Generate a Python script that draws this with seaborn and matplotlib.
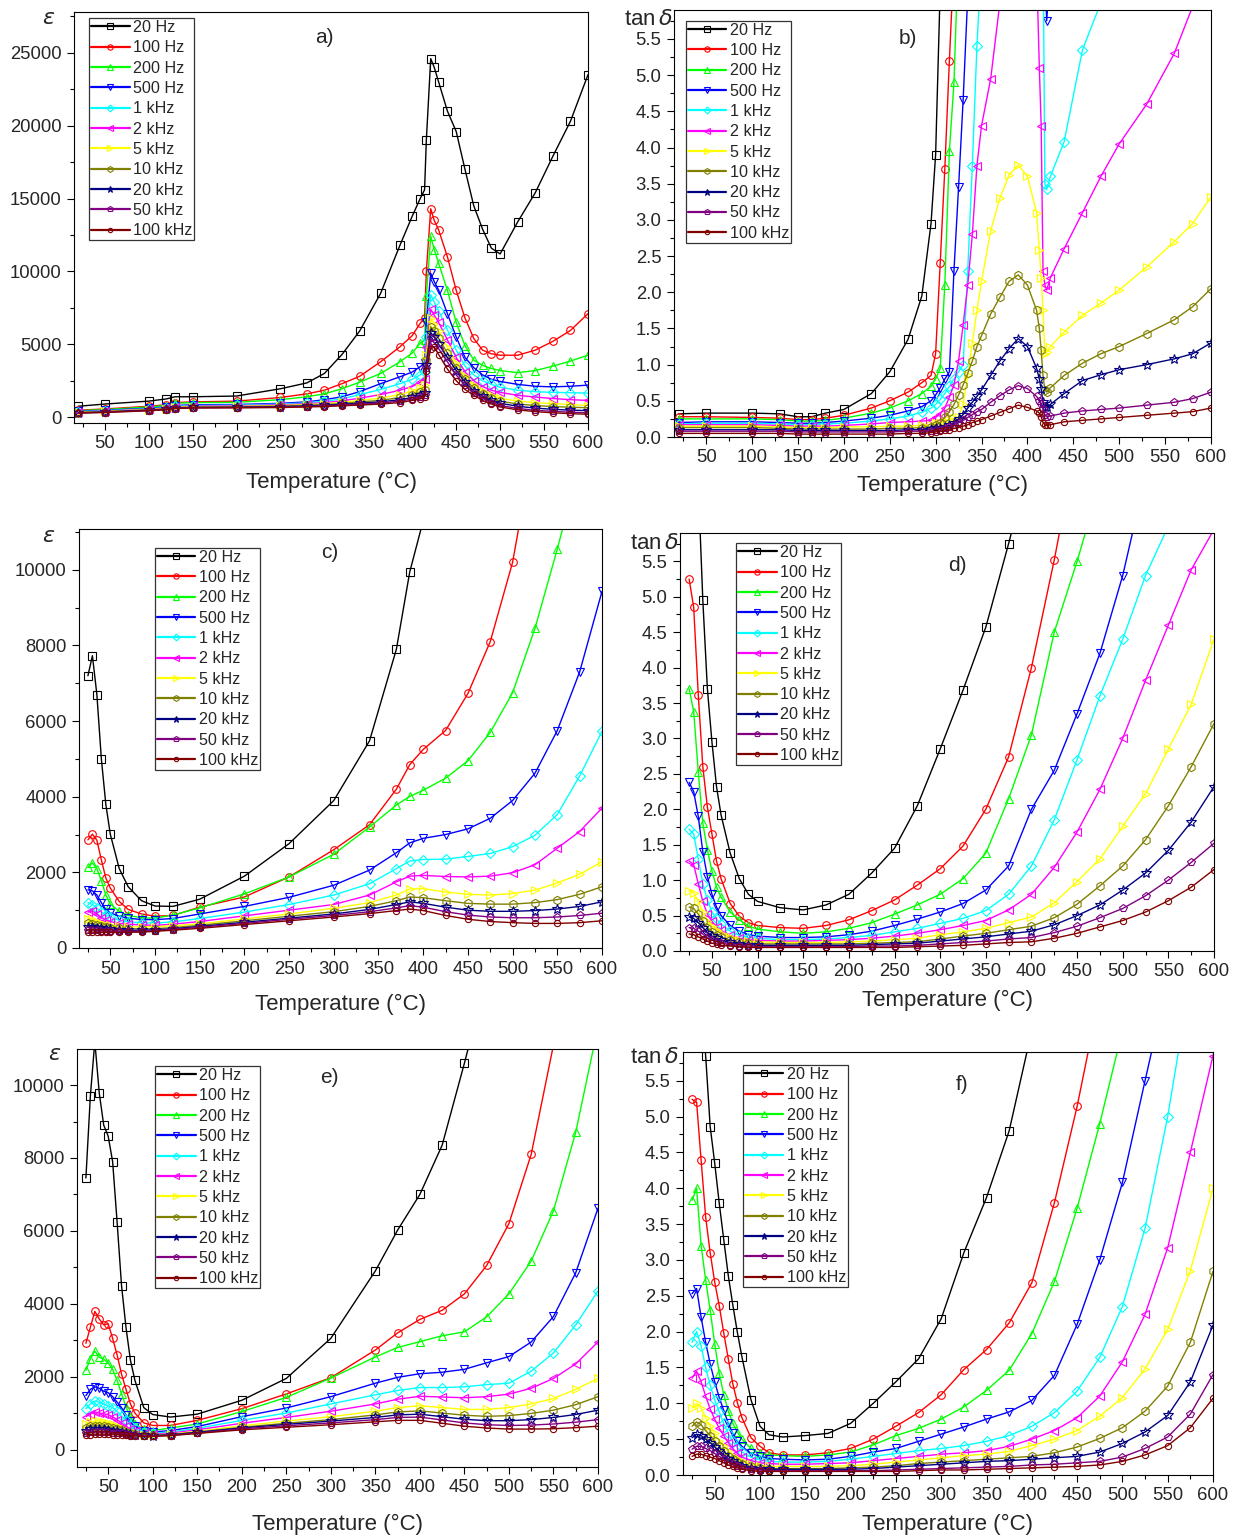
import numpy as np
import pandas as pd
import matplotlib
matplotlib.use("Agg")
import matplotlib.pyplot as plt
from matplotlib.colors import to_hex
from matplotlib.lines import Line2D
from matplotlib.ticker import MultipleLocator, FormatStrFormatter
import seaborn as sns

N = np.nan  # point above the frame / not recorded

# ── Series definitions ───────────────────────────────────────────────────────
FREQS = ["20 Hz", "100 Hz", "200 Hz", "500 Hz", "1 kHz", "2 kHz",
         "5 kHz", "10 kHz", "20 kHz", "50 kHz", "100 kHz"]
COLORS = ["#000000", "#FF0000", "#00FF00", "#0000FF", "#00FFFF", "#FF00FF",
          "#FFFF00", "#808000", "#000080", "#800080", "#800000"]
MARKERS = ["s", "o", "^", "v", "D", "<", ">", "h", "*", "p", "o"]
MSIZE = [6, 5.5, 6, 6, 5, 6, 6, 6, 7, 6, 4.5]

# ── a) permittivity, sample 1 ────────────────────────────────────────────────
T_A = [20, 50, 100, 120, 130, 150, 200, 250, 280, 300, 320, 340, 364, 386, 400, 409,
       414, 416, 421, 425, 430, 440, 450, 460, 470, 480, 490, 500, 520, 540, 560, 580, 600]
EPS_A = [
    [750, 900, 1100, 1250, 1400, 1400, 1450, 1950, 2350, 3000, 4300, 5900, 8500, 11800, 13800, 15000,
     15600, 19000, 24600, 24000, 23000, 21000, 19600, 17000, 14500, 12900, 11600, 11200, 13400, 15400, 17900, 20300, 23500],
    [480, 560, 750, 850, 1000, 1050, 1100, 1350, 1600, 1850, 2300, 2800, 3800, 4830, 5600, 6440,
     6800, 10000, 14300, 13500, 12850, 11000, 8700, 6800, 5400, 4600, 4350, 4250, 4250, 4600, 5200, 5950, 7100],
    [450, 520, 700, 800, 950, 1000, 1020, 1200, 1400, 1600, 1950, 2400, 3000, 3800, 4400, 5080,
     5290, 8300, 12400, 11500, 10560, 8700, 6500, 4900, 3920, 3550, 3340, 3200, 3050, 3200, 3500, 3850, 4250],
    [400, 470, 620, 700, 800, 850, 870, 950, 1050, 1200, 1400, 1750, 2300, 2770, 3100, 3460,
     3700, 6500, 9870, 9300, 8720, 7100, 5500, 4100, 3400, 2900, 2600, 2450, 2250, 2120, 2080, 2120, 2200],
    [380, 440, 580, 650, 750, 800, 820, 900, 980, 1100, 1250, 1550, 1900, 2300, 2600, 2900,
     3100, 5500, 8400, 7900, 7300, 6000, 4600, 3500, 2900, 2500, 2250, 2050, 1850, 1750, 1700, 1680, 1650],
    [360, 420, 550, 620, 710, 760, 780, 850, 920, 1000, 1120, 1300, 1550, 1850, 2100, 2400,
     2600, 4800, 7400, 7000, 6500, 5300, 4100, 3100, 2500, 2100, 1850, 1700, 1500, 1380, 1280, 1200, 1150],
    [340, 400, 520, 590, 680, 720, 740, 800, 860, 920, 1020, 1150, 1300, 1550, 1800, 2000,
     2200, 4300, 6800, 6400, 5900, 4800, 3700, 2800, 2200, 1800, 1500, 1300, 1100, 1000, 930, 860, 800],
    [320, 380, 500, 570, 650, 690, 710, 760, 810, 860, 940, 1050, 1150, 1350, 1550, 1700,
     1850, 3900, 6200, 5900, 5400, 4400, 3400, 2600, 2000, 1600, 1300, 1100, 900, 800, 730, 680, 650],
    [300, 360, 480, 550, 630, 670, 680, 720, 770, 820, 880, 960, 1050, 1200, 1350, 1500,
     1650, 3600, 5800, 5500, 5000, 4100, 3200, 2400, 1800, 1450, 1150, 950, 750, 620, 540, 480, 450],
    [290, 340, 460, 530, 610, 650, 660, 690, 730, 780, 830, 900, 970, 1100, 1250, 1350,
     1500, 3400, 5400, 5100, 4700, 3800, 2900, 2200, 1650, 1300, 1000, 800, 600, 470, 400, 340, 300],
    [280, 320, 440, 510, 590, 630, 640, 660, 700, 730, 780, 830, 900, 1000, 1150, 1250,
     1400, 3200, 4700, 4800, 4300, 3300, 2500, 1900, 1500, 1150, 900, 700, 500, 380, 300, 240, 200],
]

# ── b) loss tangent, sample 1 ────────────────────────────────────────────────
T_B = [20, 50, 100, 130, 150, 165, 180, 200, 230, 250, 270, 285, 295, 300, 305, 310, 315, 320,
       325, 330, 335, 340, 345, 350, 360, 370, 380, 390, 400, 410, 413, 415, 417, 419, 421, 425,
       440, 460, 480, 500, 530, 560, 580, 600]
TAN_B = [
    [0.32, 0.33, 0.33, 0.32, 0.28, 0.28, 0.33, 0.38, 0.60, 0.90, 1.35, 1.95, 2.95, 3.90, 6.20],
    [0.28, 0.28, 0.27, 0.26, 0.24, 0.24, 0.26, 0.30, 0.40, 0.50, 0.62, 0.75, 0.85, 1.15, 2.40, 3.70, 5.20, 6.60],
    [0.25, 0.25, 0.25, 0.24, 0.22, 0.22, 0.23, 0.26, 0.33, 0.40, 0.50, 0.60, 0.70, 0.80, 0.95, 2.10, 3.95, 4.90, 6.80],
    [0.20, 0.21, 0.21, 0.20, 0.19, 0.19, 0.20, 0.22, 0.26, 0.30, 0.36, 0.42, 0.50, 0.58, 0.68, 0.80, 0.90, 2.30,
     3.45, 4.66, 6.10, N, N, N, N, N, N, N, N, N, N, N, N, 6.50, 5.75, 6.50],
    [0.18, 0.19, 0.19, 0.18, 0.17, 0.17, 0.18, 0.19, 0.22, 0.25, 0.29, 0.34, 0.40, 0.45, 0.52, 0.60, 0.70, 0.80,
     0.90, 1.00, 2.30, 3.75, 5.40, 6.60, N, N, N, N, N, N, N, N, 7.00, 3.50, 3.42, 3.60, 4.08, 5.35, 6.00],
    [0.17, 0.17, 0.17, 0.16, 0.15, 0.15, 0.15, 0.16, 0.18, 0.20, 0.21, 0.22, 0.23, 0.27, 0.32, 0.40, 0.55, 0.72,
     1.05, 1.55, 2.10, 2.80, 3.75, 4.30, 4.95, 6.00, N, N, N, 6.50, 5.10, 4.30, 2.30, 2.10, 2.03, 2.20,
     2.60, 3.10, 3.60, 4.05, 4.60, 5.30, 5.95],
    [0.15, 0.15, 0.15, 0.14, 0.13, 0.13, 0.13, 0.14, 0.14, 0.15, 0.15, 0.16, 0.17, 0.19, 0.20, 0.22, 0.24, 0.26,
     0.28, 0.45, 0.85, 1.30, 1.75, 2.15, 2.85, 3.30, 3.62, 3.76, 3.60, 3.10, 2.58, 2.20, 1.75, 1.15, 1.18, 1.25,
     1.45, 1.68, 1.85, 2.03, 2.35, 2.70, 2.95, 3.32],
    [0.13, 0.13, 0.13, 0.12, 0.11, 0.11, 0.11, 0.11, 0.11, 0.12, 0.12, 0.13, 0.14, 0.16, 0.20, 0.27, 0.35, 0.45,
     0.58, 0.72, 0.88, 1.05, 1.25, 1.40, 1.70, 1.93, 2.15, 2.24, 2.10, 1.75, 1.50, 1.20, 0.85, 0.65, 0.62, 0.68,
     0.85, 1.02, 1.15, 1.25, 1.43, 1.62, 1.80, 2.05],
    [0.10, 0.10, 0.10, 0.10, 0.09, 0.09, 0.09, 0.09, 0.09, 0.09, 0.10, 0.10, 0.11, 0.12, 0.13, 0.14, 0.16, 0.20,
     0.25, 0.31, 0.40, 0.48, 0.56, 0.65, 0.85, 1.05, 1.22, 1.36, 1.25, 0.95, 0.80, 0.66, 0.48, 0.42, 0.41, 0.45,
     0.60, 0.78, 0.86, 0.93, 1.00, 1.08, 1.15, 1.30],
    [0.08, 0.08, 0.08, 0.08, 0.07, 0.07, 0.07, 0.07, 0.07, 0.07, 0.08, 0.08, 0.08, 0.09, 0.10, 0.12, 0.14, 0.17,
     0.20, 0.23, 0.27, 0.31, 0.35, 0.38, 0.48, 0.57, 0.65, 0.71, 0.67, 0.56, 0.50, 0.45, 0.39, 0.30, 0.28, 0.29,
     0.33, 0.36, 0.38, 0.40, 0.44, 0.48, 0.53, 0.62],
    [0.05, 0.05, 0.05, 0.05, 0.04, 0.04, 0.04, 0.04, 0.04, 0.04, 0.05, 0.05, 0.06, 0.07, 0.08, 0.09, 0.10, 0.12,
     0.13, 0.15, 0.17, 0.20, 0.22, 0.24, 0.29, 0.34, 0.39, 0.44, 0.41, 0.36, 0.33, 0.28, 0.20, 0.17, 0.16, 0.17,
     0.21, 0.23, 0.25, 0.27, 0.30, 0.33, 0.35, 0.40],
]

# ── c) permittivity, sample 2 ────────────────────────────────────────────────
T_C = [25, 30, 35, 40, 45, 50, 60, 70, 85, 100, 120, 150, 200, 250, 300, 340, 370, 385,
       400, 425, 450, 475, 500, 525, 550, 575, 600]
EPS_C = [
    [7200, 7730, 6700, 5000, 3800, 3010, 2100, 1620, 1250, 1110, 1100, 1290, 1900, 2760, 3900, 5480, 7900, 9950, 11300],
    [2860, 3010, 2850, 2330, 1850, 1585, 1230, 1020, 900, 840, 860, 1080, 1350, 1880, 2600, 3260, 4200, 4850,
     5250, 5750, 6730, 8100, 10200, 13500],
    [2130, 2250, 2100, 1780, 1400, 1160, 970, 860, 800, 790, 870, 1060, 1430, 1880, 2480, 3200, 3780, 4010,
     4170, 4490, 4950, 5700, 6750, 8450, 10550, 12800],
    [1540, 1510, 1400, 1200, 1020, 930, 840, 790, 750, 750, 780, 900, 1100, 1340, 1660, 2060, 2520, 2780,
     2900, 3000, 3150, 3430, 3900, 4620, 5750, 7300, 9430],
    [1200, 1150, 1050, 950, 880, 820, 730, 690, 670, 660, 690, 780, 950, 1150, 1400, 1700, 2100, 2300,
     2340, 2350, 2420, 2500, 2680, 2980, 3530, 4550, 5730],
    [950, 980, 900, 800, 740, 700, 650, 630, 610, 600, 630, 700, 850, 1000, 1150, 1400, 1750, 1900,
     1920, 1890, 1880, 1900, 1990, 2200, 2640, 3080, 3700],
    [780, 760, 700, 650, 620, 600, 570, 560, 560, 560, 590, 640, 770, 900, 1050, 1200, 1400, 1560,
     1570, 1480, 1420, 1400, 1440, 1530, 1720, 1950, 2280],
    [650, 640, 610, 580, 560, 540, 520, 510, 510, 510, 540, 600, 720, 840, 960, 1100, 1250, 1350,
     1330, 1250, 1180, 1160, 1160, 1200, 1280, 1420, 1620],
    [560, 560, 540, 520, 500, 490, 480, 470, 470, 480, 510, 570, 680, 790, 900, 1020, 1150, 1220,
     1180, 1080, 1000, 970, 970, 990, 1030, 1100, 1220],
    [480, 480, 470, 460, 455, 450, 440, 440, 440, 460, 490, 550, 650, 760, 860, 960, 1060, 1120,
     1080, 960, 870, 820, 800, 800, 820, 860, 920],
    [420, 420, 415, 410, 410, 410, 410, 415, 420, 440, 470, 520, 620, 720, 820, 910, 990, 1030,
     990, 860, 760, 700, 670, 650, 650, 670, 720],
]

# ── d) loss tangent, sample 2 ────────────────────────────────────────────────
T_D = [25, 30, 35, 40, 45, 50, 55, 60, 70, 80, 90, 100, 125, 150, 175, 200, 225, 250, 275, 300,
       325, 350, 375, 400, 425, 450, 475, 500, 525, 550, 575, 600]
TAN_D = [
    [N, N, 6.60, 4.95, 3.70, 2.95, 2.32, 1.92, 1.38, 1.02, 0.80, 0.70, 0.61, 0.58, 0.65, 0.80, 1.10, 1.45,
     2.05, 2.85, 3.68, 4.57, 5.75, 7.00],
    [5.25, 4.85, 3.62, 2.60, 2.03, 1.65, 1.27, 1.02, 0.67, 0.49, 0.40, 0.36, 0.33, 0.32, 0.36, 0.44, 0.57, 0.72,
     0.93, 1.16, 1.48, 2.00, 2.74, 4.00, 5.52, 7.20],
    [3.70, 3.38, 2.53, 1.80, 1.43, 1.13, 0.90, 0.76, 0.55, 0.44, 0.35, 0.31, 0.27, 0.25, 0.27, 0.32, 0.40, 0.52,
     0.65, 0.80, 1.02, 1.38, 2.15, 3.05, 4.50, 5.50, 6.60],
    [2.38, 2.25, 1.90, 1.40, 1.05, 0.80, 0.62, 0.50, 0.36, 0.28, 0.23, 0.21, 0.19, 0.19, 0.20, 0.23, 0.28, 0.36,
     0.45, 0.55, 0.67, 0.86, 1.20, 2.00, 2.55, 3.35, 4.20, 5.30, 6.70],
    [1.72, 1.65, 1.30, 0.95, 0.72, 0.55, 0.45, 0.38, 0.28, 0.22, 0.19, 0.18, 0.16, 0.16, 0.17, 0.19, 0.22, 0.27,
     0.32, 0.39, 0.46, 0.57, 0.80, 1.20, 1.85, 2.70, 3.60, 4.40, 5.30, 6.00],
    [1.27, 1.22, 0.95, 0.70, 0.52, 0.42, 0.34, 0.29, 0.22, 0.18, 0.16, 0.15, 0.14, 0.14, 0.15, 0.16, 0.18, 0.21,
     0.25, 0.30, 0.36, 0.43, 0.58, 0.80, 1.18, 1.68, 2.28, 3.00, 3.82, 4.60, 5.38, 5.95],
    [0.85, 0.82, 0.70, 0.55, 0.42, 0.35, 0.30, 0.25, 0.20, 0.16, 0.14, 0.13, 0.12, 0.12, 0.12, 0.13, 0.14, 0.16,
     0.18, 0.23, 0.27, 0.32, 0.40, 0.48, 0.68, 0.98, 1.30, 1.76, 2.22, 2.85, 3.48, 4.40],
    [0.62, 0.60, 0.52, 0.42, 0.33, 0.27, 0.23, 0.20, 0.15, 0.12, 0.11, 0.10, 0.10, 0.10, 0.10, 0.10, 0.11, 0.12,
     0.13, 0.17, 0.21, 0.25, 0.30, 0.35, 0.47, 0.66, 0.92, 1.20, 1.57, 2.05, 2.60, 3.21],
    [0.48, 0.46, 0.40, 0.33, 0.26, 0.21, 0.18, 0.15, 0.12, 0.10, 0.09, 0.08, 0.08, 0.08, 0.08, 0.08, 0.09, 0.10,
     0.11, 0.14, 0.17, 0.20, 0.24, 0.28, 0.37, 0.50, 0.65, 0.86, 1.10, 1.42, 1.82, 2.32],
    [0.33, 0.32, 0.28, 0.24, 0.19, 0.16, 0.13, 0.11, 0.09, 0.07, 0.07, 0.06, 0.06, 0.06, 0.06, 0.06, 0.07, 0.07,
     0.08, 0.10, 0.12, 0.14, 0.17, 0.19, 0.26, 0.35, 0.47, 0.60, 0.78, 1.00, 1.25, 1.52],
    [0.24, 0.23, 0.20, 0.17, 0.14, 0.11, 0.10, 0.08, 0.07, 0.06, 0.05, 0.05, 0.05, 0.05, 0.05, 0.05, 0.05, 0.05,
     0.06, 0.07, 0.08, 0.10, 0.12, 0.13, 0.18, 0.25, 0.34, 0.43, 0.55, 0.71, 0.90, 1.15],
]

# ── e) permittivity, sample 3 ────────────────────────────────────────────────
T_E = [25, 30, 35, 40, 45, 50, 55, 60, 65, 70, 75, 80, 90, 100, 120, 150, 200, 250, 300, 350,
       375, 400, 425, 450, 475, 500, 525, 550, 575, 600]
EPS_E = [
    [7450, 9700, 11200, 9780, 8900, 8600, 7900, 6250, 4500, 3350, 2450, 1900, 1150, 960, 890, 970, 1350,
     1950, 3050, 4900, 6020, 7000, 8350, 10600, 13000],
    [2915, 3355, 3790, 3580, 3420, 3450, 3050, 2600, 2070, 1650, 1250, 1000, 730, 660, 660, 800, 1120,
     1525, 1970, 2730, 3200, 3570, 3820, 4270, 5050, 6200, 8100, 11100],
    [2170, 2490, 2700, 2530, 2480, 2380, 2200, 1900, 1530, 1170, 880, 700, 560, 520, 590, 700, 1040,
     1430, 1960, 2540, 2800, 2960, 3120, 3230, 3640, 4270, 5170, 6550, 8710, 11600],
    [1480, 1650, 1720, 1680, 1600, 1560, 1450, 1300, 1150, 950, 780, 640, 520, 480, 520, 630, 900,
     1140, 1450, 1820, 1980, 2080, 2120, 2200, 2380, 2550, 2950, 3650, 4850, 6620],
    [1120, 1250, 1330, 1300, 1250, 1200, 1150, 1050, 920, 800, 680, 580, 480, 450, 480, 580, 800,
     1000, 1250, 1500, 1620, 1700, 1700, 1720, 1780, 1820, 2150, 2650, 3420, 4350],
    [900, 980, 1030, 1000, 980, 950, 900, 820, 730, 640, 560, 500, 440, 420, 450, 540, 720,
     880, 1050, 1250, 1380, 1460, 1440, 1420, 1450, 1520, 1680, 1950, 2350, 2950],
    [700, 760, 780, 780, 760, 740, 700, 650, 590, 530, 480, 440, 410, 400, 420, 500, 650,
     780, 900, 1050, 1150, 1200, 1150, 1100, 1100, 1150, 1250, 1400, 1650, 1950],
    [600, 640, 650, 650, 640, 620, 600, 570, 530, 490, 450, 420, 400, 390, 410, 480, 610,
     720, 820, 950, 1030, 1060, 1000, 940, 910, 930, 990, 1080, 1230, 1450],
    [520, 550, 560, 560, 550, 540, 520, 500, 480, 450, 420, 400, 390, 380, 400, 470, 590,
     690, 780, 880, 950, 970, 900, 830, 790, 790, 820, 880, 960, 1080],
    [460, 480, 490, 490, 480, 475, 465, 455, 440, 420, 400, 390, 380, 370, 390, 450, 570,
     650, 730, 820, 880, 890, 810, 730, 680, 660, 670, 700, 750, 820],
    [400, 410, 420, 420, 420, 415, 410, 405, 400, 390, 380, 370, 360, 360, 380, 440, 540,
     610, 680, 760, 800, 800, 720, 640, 590, 560, 560, 570, 600, 640],
]

# ── f) loss tangent, sample 3 ────────────────────────────────────────────────
T_F = [25, 30, 35, 40, 45, 50, 55, 60, 65, 70, 75, 80, 90, 100, 110, 125, 150, 175, 200, 225,
       250, 275, 300, 325, 350, 375, 400, 425, 450, 475, 500, 525, 550, 575, 600]
TAN_F = [
    [N, N, 6.50, 5.85, 4.86, 4.35, 3.79, 3.28, 2.78, 2.37, 1.99, 1.65, 1.05, 0.68, 0.56, 0.53, 0.55, 0.58,
     0.72, 1.00, 1.30, 1.62, 2.18, 3.10, 3.87, 4.80, 6.20],
    [5.24, 5.20, 4.39, 3.60, 3.10, 2.69, 2.36, 1.98, 1.62, 1.27, 1.01, 0.80, 0.52, 0.40, 0.31, 0.28, 0.28, 0.31,
     0.37, 0.50, 0.68, 0.87, 1.12, 1.47, 1.75, 2.12, 2.68, 3.80, 5.14, 6.70],
    [3.83, 4.00, 3.20, 2.72, 2.30, 1.83, 1.42, 1.12, 0.89, 0.72, 0.60, 0.50, 0.37, 0.30, 0.28, 0.27, 0.26, 0.28,
     0.32, 0.42, 0.55, 0.65, 0.78, 0.95, 1.18, 1.46, 1.97, 2.70, 3.72, 4.90, 6.20],
    [2.53, 2.60, 2.20, 1.85, 1.55, 1.30, 1.08, 0.90, 0.72, 0.58, 0.47, 0.40, 0.30, 0.26, 0.23, 0.22, 0.21, 0.22,
     0.26, 0.32, 0.37, 0.47, 0.57, 0.67, 0.78, 0.88, 1.04, 1.39, 2.10, 3.00, 4.08, 5.50, 6.90],
    [1.85, 2.00, 1.80, 1.50, 1.25, 1.05, 0.88, 0.72, 0.58, 0.47, 0.38, 0.32, 0.25, 0.21, 0.19, 0.18, 0.18, 0.19,
     0.22, 0.26, 0.30, 0.34, 0.37, 0.41, 0.47, 0.55, 0.68, 0.87, 1.17, 1.64, 2.35, 3.44, 5.00, 6.90],
    [1.35, 1.45, 1.30, 1.10, 0.92, 0.78, 0.65, 0.55, 0.45, 0.37, 0.30, 0.25, 0.20, 0.17, 0.16, 0.15, 0.15, 0.16,
     0.17, 0.20, 0.23, 0.26, 0.29, 0.31, 0.34, 0.40, 0.50, 0.62, 0.80, 1.10, 1.58, 2.24, 3.17, 4.50, 5.85],
    [0.93, 1.00, 0.93, 0.80, 0.68, 0.58, 0.48, 0.40, 0.33, 0.27, 0.22, 0.19, 0.15, 0.13, 0.12, 0.12, 0.12, 0.12,
     0.13, 0.15, 0.18, 0.21, 0.24, 0.27, 0.29, 0.33, 0.41, 0.50, 0.62, 0.82, 1.08, 1.48, 2.03, 2.85, 4.00],
    [0.68, 0.74, 0.70, 0.62, 0.55, 0.47, 0.40, 0.33, 0.27, 0.22, 0.18, 0.15, 0.12, 0.10, 0.09, 0.09, 0.09, 0.09,
     0.10, 0.11, 0.13, 0.16, 0.18, 0.20, 0.22, 0.24, 0.26, 0.31, 0.39, 0.51, 0.66, 0.89, 1.24, 1.85, 2.84],
    [0.52, 0.57, 0.55, 0.50, 0.45, 0.39, 0.33, 0.28, 0.23, 0.19, 0.15, 0.13, 0.10, 0.08, 0.08, 0.08, 0.08, 0.08,
     0.08, 0.09, 0.11, 0.13, 0.15, 0.17, 0.19, 0.20, 0.22, 0.24, 0.26, 0.32, 0.44, 0.60, 0.83, 1.30, 2.09],
    [0.36, 0.40, 0.40, 0.37, 0.34, 0.30, 0.26, 0.22, 0.18, 0.15, 0.12, 0.10, 0.08, 0.07, 0.06, 0.06, 0.06, 0.06,
     0.06, 0.06, 0.07, 0.08, 0.09, 0.10, 0.11, 0.12, 0.14, 0.15, 0.17, 0.19, 0.25, 0.37, 0.53, 0.85, 1.40],
    [0.26, 0.29, 0.29, 0.27, 0.25, 0.23, 0.20, 0.17, 0.14, 0.12, 0.10, 0.08, 0.06, 0.05, 0.05, 0.05, 0.05, 0.05,
     0.05, 0.05, 0.05, 0.06, 0.07, 0.07, 0.08, 0.09, 0.10, 0.11, 0.12, 0.14, 0.19, 0.28, 0.41, 0.66, 1.07],
]

# ── Layout (pixel boxes in a 1234x1537 canvas) ───────────────────────────────
W, H = 1234, 1537
EPS_LBL = r"$\varepsilon$"
TAN_LBL = r"tan$\,\delta$"
PANELS = [
    dict(tag="a)", T=T_A, rows=EPS_A, box=(74, 12, 588, 423), ylim=(-400, 27800), ystep=(5000, 2500),
         fmt=None, ylab=EPS_LBL, ylab_xy=(-0.05, 0.985), leg=(0.029, 0.985), tag_xy=(0.488, 0.937), xl=59),
    dict(tag="b)", T=T_B, rows=TAN_B, box=(674, 10, 1211, 437), ylim=(0, 5.9), ystep=(0.5, 0.25),
         fmt="%.1f", ylab=TAN_LBL, ylab_xy=(-0.048, 0.977), leg=(0.022, 0.975), tag_xy=(0.436, 0.934), xl=48),
    dict(tag="c)", T=T_C, rows=EPS_C, box=(79, 529, 602, 948), ylim=(0, 11080), ystep=(2000, 1000),
         fmt=None, ylab=EPS_LBL, ylab_xy=(-0.059, 0.981), leg=(0.145, 0.955), tag_xy=(0.48, 0.945), xl=56),
    dict(tag="d)", T=T_D, rows=TAN_D, box=(680, 533, 1214, 951), ylim=(0, 5.9), ystep=(0.5, 0.25),
         fmt="%.1f", ylab=TAN_LBL, ylab_xy=(-0.047, 0.974), leg=(0.105, 0.976), tag_xy=(0.52, 0.923), xl=49),
    dict(tag="e)", T=T_E, rows=EPS_E, box=(77, 1049, 598, 1467), ylim=(-480, 10990), ystep=(2000, 1000),
         fmt=None, ylab=EPS_LBL, ylab_xy=(-0.043, 0.986), leg=(0.150, 0.959), tag_xy=(0.485, 0.933), xl=57),
    dict(tag="f)", T=T_F, rows=TAN_F, box=(683, 1052, 1213, 1475), ylim=(0, 5.9), ystep=(0.5, 0.25),
         fmt="%.1f", ylab=TAN_LBL, ylab_xy=(-0.053, 0.988), leg=(0.113, 0.969), tag_xy=(0.526, 0.922), xl=49),
]


def to_frame(temps, rows):
    """Long table; a NaN splits a series into separate drawn segments."""
    parts = []
    for name, vals in zip(FREQS, rows):
        v = np.full(len(temps), np.nan)
        v[:len(vals)] = vals
        seg = np.cumsum(np.isnan(v))
        df = pd.DataFrame({"T": temps, "val": v, "freq": name,
                           "unit": [f"{name}_{s}" for s in seg]})
        parts.append(df.dropna())
    return pd.concat(parts, ignore_index=True)


def draw_panel(fig, p):
    l, t, r, b = p["box"]
    ax = fig.add_axes([l / W, 1 - b / H, (r - l) / W, (b - t) / H])
    data = to_frame(p["T"], p["rows"])
    sns.lineplot(data=data, x="T", y="val", hue="freq", style="freq", units="unit",
                 estimator=None, hue_order=FREQS, style_order=FREQS,
                 palette=dict(zip(FREQS, COLORS)), markers=dict(zip(FREQS, MARKERS)),
                 dashes=False, linewidth=1.0, markersize=6, legend=False, ax=ax)

    # open markers in the line colour, as in the original plot
    hex_cols = [to_hex(c) for c in COLORS]
    for line in ax.lines:
        col = to_hex(line.get_color())
        i = hex_cols.index(col) if col in hex_cols else 0
        line.set_markerfacecolor("none")
        line.set_markeredgecolor(col)
        line.set_markeredgewidth(0.8)
        line.set_markersize(MSIZE[i])

    ax.set_xlim(15, 600)
    ax.set_ylim(*p["ylim"])
    ax.xaxis.set_major_locator(MultipleLocator(50))
    ax.xaxis.set_minor_locator(MultipleLocator(25))
    ax.yaxis.set_major_locator(MultipleLocator(p["ystep"][0]))
    ax.yaxis.set_minor_locator(MultipleLocator(p["ystep"][1]))
    if p["fmt"]:
        ax.yaxis.set_major_formatter(FormatStrFormatter(p["fmt"]))
    ax.tick_params(which="both", direction="out", top=False, right=False,
                   width=0.8, color="black", labelsize=13.3, pad=4)
    ax.tick_params(which="major", length=5)
    ax.tick_params(which="minor", length=3)
    for s in ax.spines.values():
        s.set_linewidth(0.8)
        s.set_color("black")

    ax.set_ylabel("")
    ax.set_xlabel("Temperature (°C)", fontsize=16)
    ax.xaxis.set_label_coords(0.5, -p["xl"] / (b - t))
    ax.xaxis.label.set_va("center")
    ax.text(*p["ylab_xy"], p["ylab"], transform=ax.transAxes, ha="center", va="center", fontsize=16)
    ax.text(*p["tag_xy"], p["tag"], transform=ax.transAxes, ha="center", va="center", fontsize=15)

    # legend: thicker lines with small open markers, tight square frame
    handles = [Line2D([], [], color=c, lw=1.6, marker=m, ms=ms * 0.7, mfc="none",
                      mec=c, mew=0.8) for c, m, ms in zip(COLORS, MARKERS, MSIZE)]
    leg = ax.legend(handles, FREQS, loc="upper left", bbox_to_anchor=p["leg"],
                    borderaxespad=0, fontsize=11.6, frameon=True, fancybox=False,
                    edgecolor="#333333", framealpha=1, handlelength=2.4,
                    handletextpad=0.2, labelspacing=0.33, borderpad=0.12, numpoints=1)
    leg.get_frame().set_linewidth(0.9)
    return ax


sns.set_theme(style="ticks")
plt.rcParams["font.family"] = ["Liberation Sans", "DejaVu Sans"]
plt.rcParams["mathtext.fontset"] = "dejavusans"

fig = plt.figure(figsize=(W / 100, H / 100), dpi=100)
for panel in PANELS:
    draw_panel(fig, panel)

fig.savefig("out.png", dpi=100)
